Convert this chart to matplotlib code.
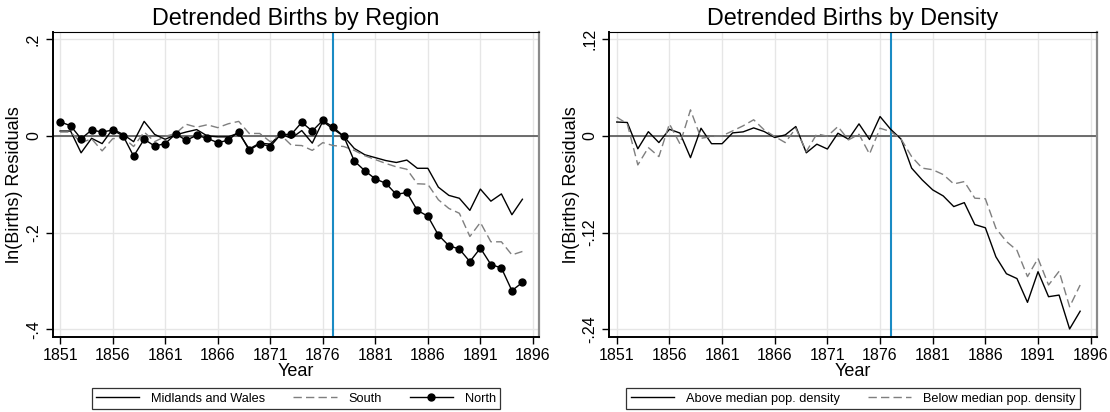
import numpy as np
import matplotlib
matplotlib.use("Agg")
import matplotlib.pyplot as plt

plt.rcParams['font.family'] = ['Liberation Sans', 'DejaVu Sans']

years = np.arange(1851, 1896)

# left panel: detrended births by region
midlands = [0.010, 0.010, -0.035, -0.005, -0.016, 0.014, 0.003, -0.012, 0.030, 0.003,
            -0.007, 0.002, 0.008, 0.013, 0.000, -0.002, -0.002, 0.006, -0.027, -0.015,
            -0.017, 0.004, -0.005, 0.011, -0.015, 0.030, 0.014, -0.001, -0.026, -0.039,
            -0.045, -0.051, -0.055, -0.050, -0.067, -0.067, -0.106, -0.123, -0.129, -0.154,
            -0.110, -0.135, -0.120, -0.163, -0.131]
south = [0.008, 0.008, -0.014, -0.006, -0.031, -0.006, -0.003, -0.022, 0.008, -0.012,
         -0.001, 0.005, 0.024, 0.018, 0.023, 0.017, 0.025, 0.030, 0.005, 0.005,
         -0.012, 0.002, -0.019, -0.020, -0.030, -0.014, -0.020, -0.022, -0.030, -0.041,
         -0.049, -0.057, -0.064, -0.069, -0.099, -0.100, -0.132, -0.150, -0.160, -0.208,
         -0.179, -0.219, -0.219, -0.246, -0.239]
north = [0.029, 0.021, -0.006, 0.012, 0.008, 0.012, 0.000, -0.042, -0.007, -0.021,
         -0.016, 0.004, -0.009, 0.001, -0.005, -0.014, -0.009, 0.009, -0.030, -0.016,
         -0.022, 0.003, 0.003, 0.028, 0.010, 0.032, 0.018, -0.001, -0.052, -0.072,
         -0.089, -0.098, -0.121, -0.117, -0.154, -0.166, -0.205, -0.227, -0.234, -0.260,
         -0.232, -0.266, -0.273, -0.320, -0.303]

# right panel: detrended births by density
above = [0.0172, 0.0166, -0.0160, 0.0052, -0.0083, 0.0082, 0.0035, -0.0270, 0.0095, -0.0097,
         -0.0097, 0.0037, 0.0050, 0.0099, 0.0054, -0.0020, 0.0012, 0.0116, -0.0210, -0.0103,
         -0.0163, 0.0033, -0.0041, 0.0149, -0.0045, 0.0240, 0.0083, -0.0041, -0.0400, -0.0546,
         -0.0670, -0.0745, -0.0877, -0.0828, -0.1100, -0.1140, -0.1500, -0.1710, -0.1770, -0.2065,
         -0.1685, -0.1995, -0.1975, -0.2395, -0.2175]
below = [0.0232, 0.0149, -0.0360, -0.0145, -0.0257, 0.0149, -0.0099, 0.0323, -0.0030, -0.0008,
         0.0000, 0.0062, 0.0125, 0.0200, 0.0074, -0.0008, -0.0083, 0.0095, -0.0195, 0.0025,
         -0.0004, 0.0116, -0.0050, 0.0020, -0.0225, 0.0095, 0.0054, -0.0040, -0.0257, -0.0400,
         -0.0420, -0.0480, -0.0596, -0.0567, -0.0773, -0.0780, -0.1146, -0.1310, -0.1420, -0.1746,
         -0.1520, -0.1850, -0.1680, -0.2120, -0.1850]

xticks = [1851, 1856, 1861, 1866, 1871, 1876, 1881, 1886, 1891, 1896]
reform_year = 1877

fig = plt.figure(figsize=(11.1, 4.12), dpi=100)
ax1 = fig.add_axes([0.0475, 0.183, 0.438, 0.739])
ax2 = fig.add_axes([0.549, 0.183, 0.439, 0.739])


def style(ax, yt, ylabs, ylim, title):
    ax.set_xlim(1850.3, 1896.57)
    ax.set_ylim(*ylim)
    ax.set_xticks(xticks)
    ax.set_yticks(yt)
    ax.set_yticklabels(ylabs, rotation=90, va='center')
    ax.tick_params(labelsize=11.5, direction='out', length=5, width=1, color='black')
    ax.grid(True, color='#e6e6e6', lw=1.0)
    ax.set_axisbelow(True)
    ax.axhline(0, color='#555555', lw=1.2, zorder=2)
    ax.axvline(reform_year, color='#1a8bc4', lw=1.5, zorder=2)
    ax.spines['left'].set_linewidth(1.4)
    ax.spines['bottom'].set_linewidth(1.4)
    ax.spines['top'].set_linewidth(0.8)
    ax.spines['right'].set_color('#8a8a8a')
    ax.spines['right'].set_linewidth(1.6)
    ax.set_xlabel("Year", fontsize=13, labelpad=0)
    ax.set_ylabel("ln(Births) Residuals", fontsize=13, labelpad=2)
    ax.set_title(title, fontsize=16.8, pad=5)


def add_legend(ax, ncol):
    leg = ax.legend(loc='upper center', bbox_to_anchor=(0.5, -0.148), ncol=ncol, fontsize=9.2,
                    frameon=True, fancybox=False, edgecolor='black', handlelength=3.4,
                    columnspacing=2.2, handletextpad=0.9, borderpad=0.35)
    leg.get_frame().set_linewidth(0.9)


style(ax1, [0.2, 0, -0.2, -0.4], ['.2', '0', '-.2', '-.4'], (-0.415, 0.2145),
      "Detrended Births by Region")
ax1.plot(years, midlands, color='black', lw=1.0, label='Midlands and Wales', zorder=3)
ax1.plot(years, south, color='#7f7f7f', lw=1.0, dashes=(6, 3), label='South', zorder=3)
ax1.plot(years, north, color='black', lw=1.0, marker='o', ms=5, label='North', zorder=4)
add_legend(ax1, 3)

style(ax2, [0.12, 0, -0.12, -0.24], ['.12', '0', '-.12', '-.24'], (-0.249, 0.1287),
      "Detrended Births by Density")
ax2.plot(years, above, color='black', lw=1.0, label='Above median pop. density', zorder=3)
ax2.plot(years, below, color='#7f7f7f', lw=1.0, dashes=(6, 3),
         label='Below median pop. density', zorder=3)
add_legend(ax2, 2)

fig.savefig("out.png", dpi=100)
